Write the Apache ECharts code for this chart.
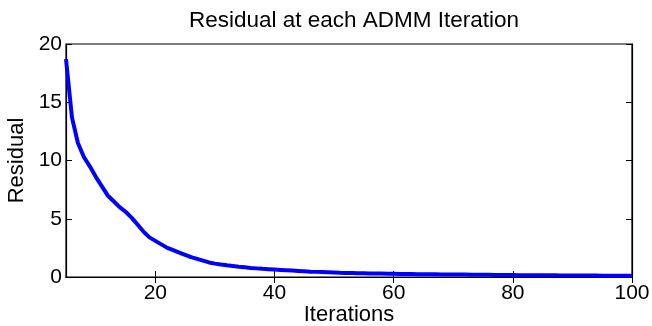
<!DOCTYPE html>
<html>
<head>
<meta charset="utf-8">
<script src="https://cdn.jsdelivr.net/npm/echarts@6/dist/echarts.min.js"></script>
<style>
  html, body { margin: 0; padding: 0; background: #fff; }
  #main { width: 652px; height: 326px; }
</style>
</head>
<body>
<div id="main"></div>
<script>
// iterations 5..100 and the residual
const iterations = []
for (let i = 5; i <= 100; i++) iterations.push(i)

const residual = [
  18.7, 13.7, 11.5, 10.3, 9.5, 8.6, 7.8, 7.0, 6.5, 6.0,
  5.6, 5.1, 4.5, 3.9, 3.4, 3.1, 2.8, 2.5, 2.3, 2.1,
  1.9, 1.7, 1.55, 1.4, 1.25, 1.15, 1.07, 1.0, 0.94, 0.88,
  0.83, 0.78, 0.74, 0.70, 0.67, 0.64,
  0.61, 0.58, 0.55, 0.52, 0.49, 0.46, 0.44, 0.42, 0.40, 0.38,
  0.36, 0.35, 0.34, 0.33, 0.32, 0.31, 0.30, 0.29, 0.28, 0.27,
  0.26, 0.255, 0.25, 0.245, 0.24, 0.235, 0.23, 0.225, 0.22, 0.215,
  0.21, 0.205, 0.2, 0.195, 0.19, 0.185, 0.18, 0.175, 0.17, 0.165,
  0.16, 0.157, 0.154, 0.151, 0.148, 0.145, 0.142, 0.139, 0.136, 0.133,
  0.13, 0.127, 0.124, 0.121, 0.118, 0.115, 0.112, 0.109, 0.106, 0.1
]

const xTicks = [20, 40, 60, 80, 100]

const font = "Liberation Sans, Arial, Helvetica, sans-serif"

const points = iterations.map((it, i) => [it, residual[i]])

const chart = echarts.init(document.getElementById("main"), null, { renderer: "canvas" })

const tickStyle = { show: true, inside: true, length: 6, lineStyle: { color: "#000", width: 1 } }

const option = {
  animation: false,
  backgroundColor: "#fff",
  title: {
    text: "Residual at each ADMM Iteration",
    left: 349,
    top: 4,
    textAlign: "center",
    textStyle: { fontFamily: font, fontSize: 22.5, fontWeight: "normal", color: "#000" }
  },
  grid: {
    left: 66, right: 20, top: 44, bottom: 49,
    outerBoundsMode: "none",
    containLabel: false,
    show: true, borderColor: "#000", borderWidth: 1.2, backgroundColor: "transparent"
  },
  xAxis: [
    {
      type: "value", min: 5, max: 100,
      name: "Iterations", nameLocation: "middle", nameGap: 27,
      nameMoveOverlap: false,
      nameTextStyle: { fontFamily: font, fontSize: 22, color: "#000" },
      axisLine: { show: true, lineStyle: { color: "#000", width: 1.2 } },
      axisTick: Object.assign({ customValues: xTicks }, tickStyle),
      axisLabel: { customValues: xTicks, fontFamily: font, fontSize: 21, color: "#000", margin: 6 },
      splitLine: { show: false }
    },
    {
      type: "value", min: 5, max: 100, position: "top",
      axisLine: { show: true, lineStyle: { color: "#000", width: 1.2 } },
      axisTick: Object.assign({ customValues: xTicks }, tickStyle),
      axisLabel: { show: false },
      splitLine: { show: false }
    }
  ],
  yAxis: [
    {
      type: "value", min: 0, max: 20, interval: 5,
      name: "Residual", nameLocation: "middle", nameGap: 36,
      nameTextStyle: { fontFamily: font, fontSize: 22, color: "#000" },
      axisLine: { show: true, lineStyle: { color: "#000", width: 1.2 } },
      axisTick: tickStyle,
      axisLabel: { fontFamily: font, fontSize: 21, color: "#000", margin: 4 },
      splitLine: { show: false }
    },
    {
      type: "value", min: 0, max: 20, interval: 5, position: "right",
      axisLine: { show: true, lineStyle: { color: "#000", width: 1.2 } },
      axisTick: tickStyle,
      axisLabel: { show: false },
      splitLine: { show: false }
    }
  ],
  series: [
    {
      type: "line",
      data: points,
      showSymbol: false,
      smooth: false,
      lineStyle: { color: "#0000ff", width: 4 },
      clip: true
    }
  ]
}

chart.setOption(option)
</script>
</body>
</html>
